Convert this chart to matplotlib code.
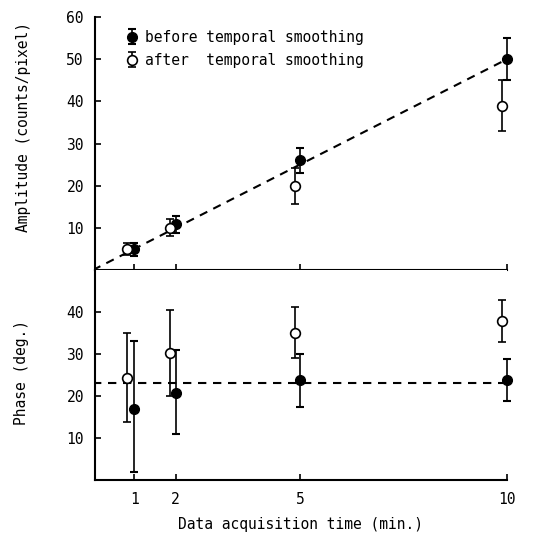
import matplotlib
matplotlib.use("Agg")
import matplotlib.pyplot as plt

plt.rcParams['font.family'] = ['DejaVu Sans Mono']
plt.rcParams['font.size'] = 10.5

# ---- data ----
times = [1, 2, 5, 10]
x_before = [1.0, 2.0, 5.0, 10.0]
x_after = [0.83, 1.86, 4.89, 9.88]

amp_before = [4.9, 10.8, 26.0, 50.0]
amp_before_err = [1.5, 2.0, 3.0, 5.0]
amp_after = [5.0, 10.0, 20.0, 39.0]
amp_after_err = [1.5, 2.0, 4.3, 6.0]
amp_slope = 5.0  # counts/pixel per minute (dashed line)

ph_before = [17.0, 20.8, 23.7, 23.8]
ph_before_err_lo = [15.0, 9.8, 6.2, 5.0]
ph_before_err_hi = [16.0, 10.2, 6.2, 5.0]
ph_after = [24.4, 30.2, 35.1, 37.9]
ph_after_err = [10.6, 10.2, 6.0, 5.0]
ph_mean = 23.0

yticks_amp = [10, 20, 30, 40, 50, 60]
yticks_ph = [10, 20, 30, 40]

fig = plt.figure(figsize=(5.35, 5.39), dpi=100)
W, H = 535, 539
left, right = 95 / W, 507 / W
ax1 = fig.add_axes([left, 1 - 270 / H, right - left, 253 / H])
ax2 = fig.add_axes([left, 1 - 480 / H, right - left, 210 / H])

ekw_filled = dict(fmt='o', color='black', mfc='black', mec='black', ms=7,
                  capsize=3, elinewidth=1.2, capthick=1.5, zorder=3)
ekw_open = dict(fmt='o', color='black', mfc='white', mec='black', ms=7,
                mew=1.2, capsize=3, elinewidth=1.2, capthick=1.5, zorder=3)
dash = (0, (4, 3.2))


def noclip(container):
    for art in container.get_children():
        art.set_clip_on(False)
    return container


# ---- amplitude panel ----
xs_line = [0, max(times)]
ax1.plot(xs_line, [amp_slope * v for v in xs_line], color='black', lw=1.5,
         linestyle=dash, zorder=2)
h1 = noclip(ax1.errorbar(x_before, amp_before, yerr=amp_before_err, **ekw_filled))
h2 = noclip(ax1.errorbar(x_after, amp_after, yerr=amp_after_err, **ekw_open))
ax1.set_xlim(0.05, 10.0)
ax1.set_ylim(0, 60)
ax1.set_yticks(yticks_amp)
ax1.set_xticks(times)
ax1.set_xticklabels([])
ax1.spines['top'].set_visible(False)
ax1.spines['right'].set_visible(False)
ax1.set_ylabel('Amplitude (counts/pixel)', fontsize=10.5)
ax1.yaxis.set_label_coords(-0.155, 0.565)
leg = ax1.legend([h1, h2], ['before temporal smoothing', 'after  temporal smoothing'],
                 loc='upper left', bbox_to_anchor=(0.05, 0.99), frameon=False,
                 handlelength=0.9, handletextpad=0.4, labelspacing=0.55,
                 fontsize=10.5, borderpad=0.2)

# ---- phase panel ----
ax2.plot([0, max(times)], [ph_mean, ph_mean], color='black', lw=1.5,
         linestyle=dash, zorder=2)
noclip(ax2.errorbar(x_after, ph_after, yerr=ph_after_err, **ekw_open))
noclip(ax2.errorbar(x_before, ph_before, yerr=[ph_before_err_lo, ph_before_err_hi],
                    **ekw_filled))
ax2.set_xlim(0.05, 10.0)
ax2.set_ylim(0, 50)
ax2.set_yticks(yticks_ph)
ax2.set_xticks(times)
ax2.set_xticklabels([str(t) for t in times])
ax2.spines['top'].set_visible(False)
ax2.spines['right'].set_visible(False)
ax2.set_ylabel('Phase (deg.)', fontsize=10.5)
ax2.yaxis.set_label_coords(-0.16, 0.51)
ax2.set_xlabel('Data acquisition time (min.)', fontsize=10.5)
ax2.xaxis.set_label_coords(0.5, -0.175)

for ax in (ax1, ax2):
    for s in ('left', 'bottom'):
        ax.spines[s].set_linewidth(1.5)
    ax.tick_params(axis='both', direction='in', length=4, width=1.2)
    ax.tick_params(axis='y', pad=8)
    ax.tick_params(axis='x', pad=9)

fig.savefig('out.png', dpi=100)
